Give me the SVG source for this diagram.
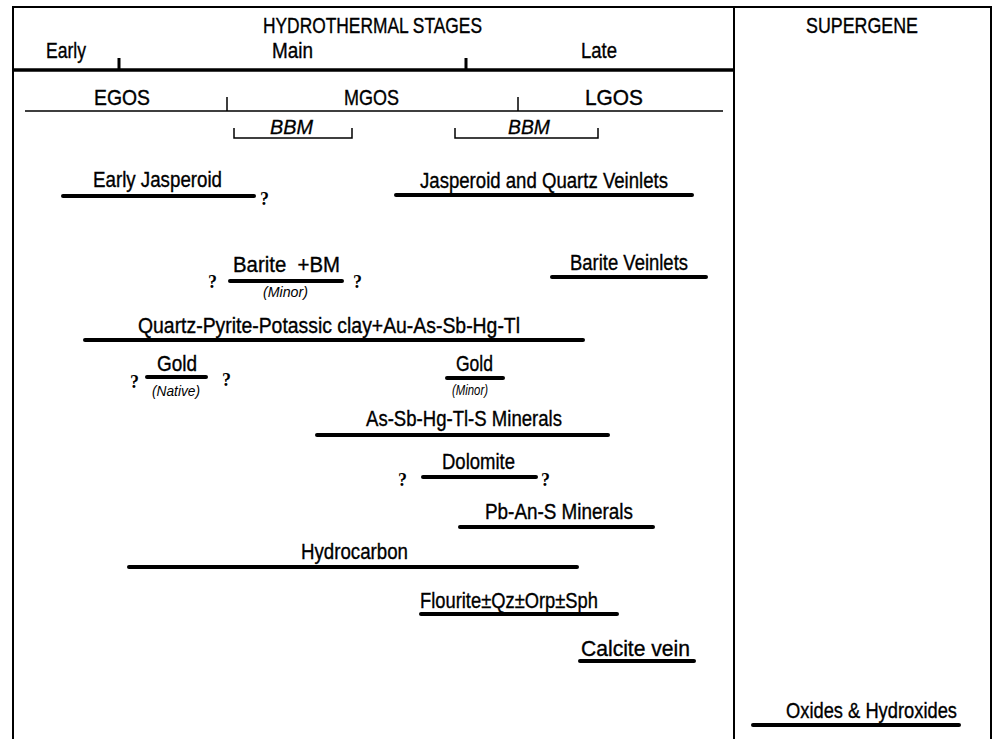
<svg xmlns="http://www.w3.org/2000/svg" width="998" height="739" viewBox="0 0 998 739">
<style>
text{font-family:"Liberation Sans",Arial,sans-serif;fill:#000}
.t{font-size:21.5px;stroke:#000;stroke-width:0.35}
.i{font-size:20px;font-style:italic;stroke:#000;stroke-width:0.3}
.s{font-size:14px;font-style:italic}
.q{font-family:"Liberation Serif","Times New Roman",serif;font-size:18px;font-weight:bold}
.bar{stroke:#000;stroke-width:4;stroke-linecap:round;fill:none}
.frame{stroke:#000;stroke-width:2;fill:none}
.thin{stroke:#000;stroke-width:1.5;fill:none}
.tk{stroke:#000;stroke-width:3;fill:none}
</style>
<rect width="998" height="739" fill="#fff"/>
<g id="frame">
<path class="frame" d="M13,739 V7 H991 V739"/>
<path class="frame" d="M734,7 V739"/>
<path d="M13,70 H734" stroke="#000" stroke-width="3.5"/>
<path class="tk" d="M119,58 V70 M466,58 V70"/>
<path class="thin" d="M25,111 H723 M227,97 V111 M518,97 V111"/>
<path class="thin" d="M234,128 V138 H352 V128 M455,128 V138 H598 V128"/>
</g>
<g id="header">
<text class="t" x="263" y="33" textLength="219" lengthAdjust="spacingAndGlyphs">HYDROTHERMAL STAGES</text>
<text class="t" x="806" y="33" textLength="112" lengthAdjust="spacingAndGlyphs">SUPERGENE</text>
<text class="t" x="46" y="58" textLength="40" lengthAdjust="spacingAndGlyphs">Early</text>
<text class="t" x="272" y="58" textLength="41" lengthAdjust="spacingAndGlyphs">Main</text>
<text class="t" x="581" y="58" textLength="36" lengthAdjust="spacingAndGlyphs">Late</text>
<text class="t" x="94" y="105" textLength="56" lengthAdjust="spacingAndGlyphs">EGOS</text>
<text class="t" x="344" y="105" textLength="55" lengthAdjust="spacingAndGlyphs">MGOS</text>
<text class="t" x="585" y="105" textLength="58" lengthAdjust="spacingAndGlyphs">LGOS</text>
<text class="i" x="270" y="134" textLength="43" lengthAdjust="spacingAndGlyphs">BBM</text>
<text class="i" x="508" y="134" textLength="42" lengthAdjust="spacingAndGlyphs">BBM</text>
</g>
<g id="connectors">
<path class="bar" d="M63,196 H254"/>
<path class="bar" d="M396,195 H692"/>
<path class="bar" d="M230,281 H342"/>
<path class="bar" d="M552,277 H706"/>
<path class="bar" d="M85,340 H583"/>
<path class="bar" d="M147,377 H206"/>
<path class="bar" d="M447,378 H503"/>
<path class="bar" d="M317,435 H608"/>
<path class="bar" d="M423,477 H536"/>
<path class="bar" d="M460,527 H653"/>
<path class="bar" d="M129,567 H577"/>
<path class="bar" d="M421,614 H617"/>
<path class="bar" d="M580,661 H694"/>
<path class="bar" d="M753,725 H959"/>
</g>
<g id="early-jasperoid">
<text class="t" x="93" y="187" textLength="129" lengthAdjust="spacingAndGlyphs">Early Jasperoid</text>
<text class="q" x="260" y="205">?</text>
</g>
<g id="jasperoid-quartz">
<text class="t" x="420" y="188" textLength="248" lengthAdjust="spacingAndGlyphs">Jasperoid and Quartz Veinlets</text>
</g>
<g id="barite-bm">
<text class="q" x="208" y="288">?</text>
<text class="t" x="233" y="272" textLength="107" lengthAdjust="spacingAndGlyphs" xml:space="preserve">Barite  +BM</text>
<text class="s" x="263" y="297" textLength="45" lengthAdjust="spacingAndGlyphs">(Minor)</text>
<text class="q" x="353" y="288">?</text>
</g>
<g id="barite-veinlets">
<text class="t" x="570" y="270" textLength="118" lengthAdjust="spacingAndGlyphs">Barite Veinlets</text>
</g>
<g id="quartz-pyrite">
<text class="t" x="138" y="333" textLength="382" lengthAdjust="spacingAndGlyphs">Quartz-Pyrite-Potassic clay+Au-As-Sb-Hg-Tl</text>
</g>
<g id="gold-native">
<text class="q" x="130" y="388">?</text>
<text class="t" x="157" y="371" textLength="40" lengthAdjust="spacingAndGlyphs">Gold</text>
<text class="s" x="152" y="396" textLength="48" lengthAdjust="spacingAndGlyphs">(Native)</text>
<text class="q" x="222" y="386">?</text>
</g>
<g id="gold-minor">
<text class="t" x="456" y="371" textLength="37" lengthAdjust="spacingAndGlyphs">Gold</text>
<text class="s" x="452" y="395" textLength="36" lengthAdjust="spacingAndGlyphs">(Minor)</text>
</g>
<g id="as-sb">
<text class="t" x="366" y="426" textLength="196" lengthAdjust="spacingAndGlyphs">As-Sb-Hg-Tl-S Minerals</text>
</g>
<g id="dolomite">
<text class="q" x="398" y="486">?</text>
<text class="t" x="442" y="469" textLength="73" lengthAdjust="spacingAndGlyphs">Dolomite</text>
<text class="q" x="541" y="486">?</text>
</g>
<g id="pb-an-s">
<text class="t" x="485" y="519" textLength="148" lengthAdjust="spacingAndGlyphs">Pb-An-S Minerals</text>
</g>
<g id="hydrocarbon">
<text class="t" x="301" y="559" textLength="107" lengthAdjust="spacingAndGlyphs">Hydrocarbon</text>
</g>
<g id="flourite">
<text class="t" x="420" y="608" textLength="178" lengthAdjust="spacingAndGlyphs">Flourite±Qz±Orp±Sph</text>
</g>
<g id="calcite">
<text class="t" x="581" y="656" textLength="109" lengthAdjust="spacingAndGlyphs">Calcite vein</text>
</g>
<g id="oxides">
<text class="t" x="786" y="718" textLength="171" lengthAdjust="spacingAndGlyphs">Oxides &amp; Hydroxides</text>
</g>
</svg>
